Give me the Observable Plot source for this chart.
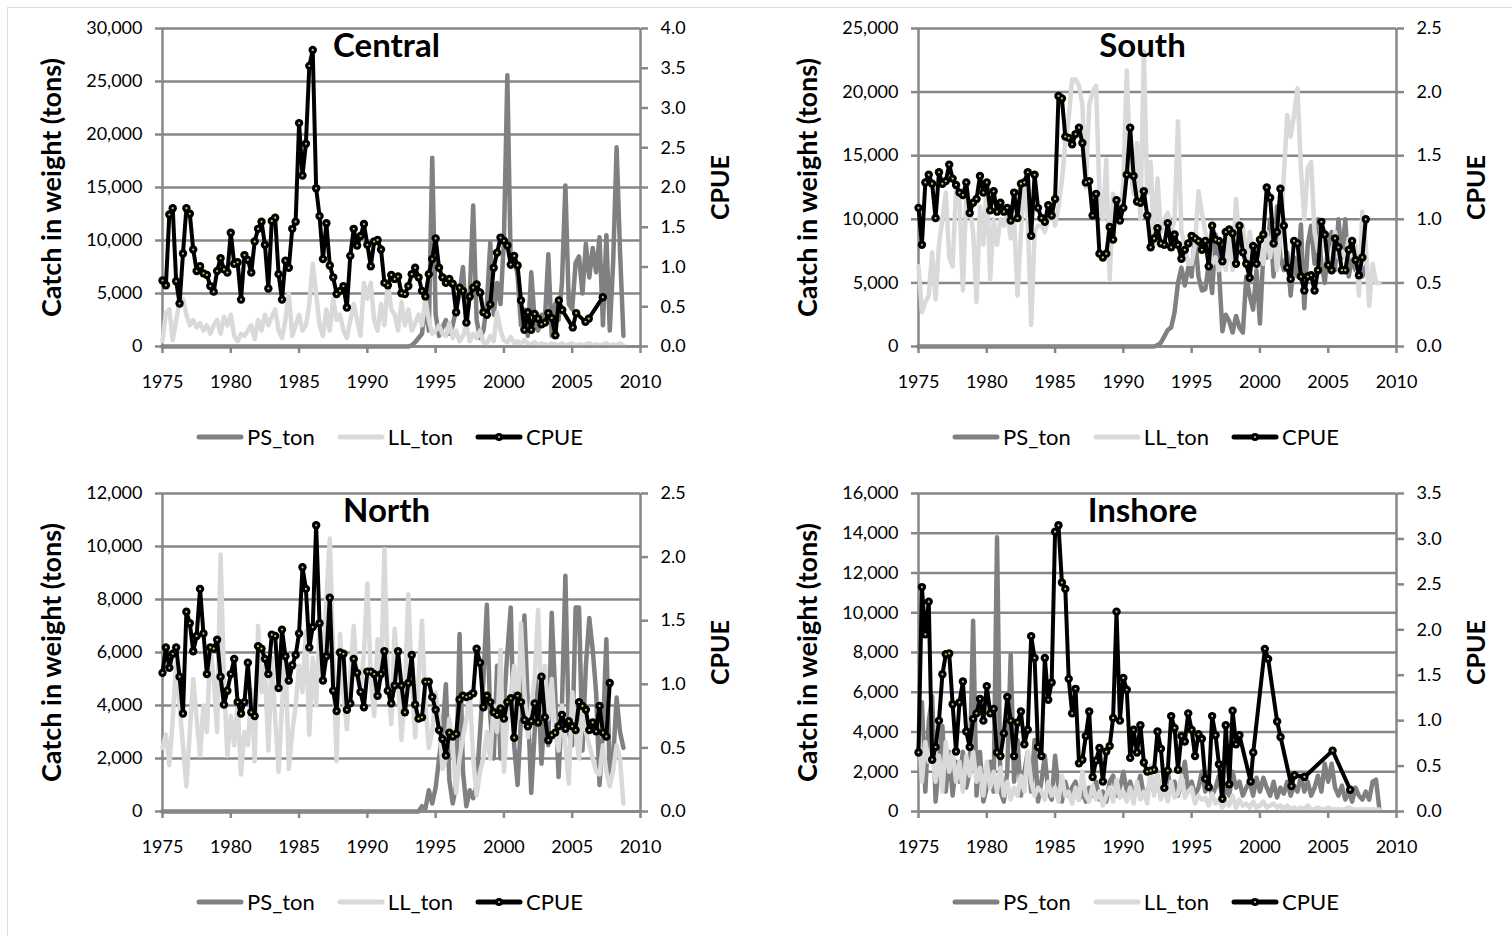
<!DOCTYPE html>
<html><head><meta charset="utf-8">
<script src="https://cdn.jsdelivr.net/npm/d3@7"></script>
<script src="https://cdn.jsdelivr.net/npm/@observablehq/plot@0.6"></script>
<style>
body{margin:0;background:#fff;font-family:Lato,sans-serif;}
#root{position:relative;width:1512px;height:936px;overflow:hidden;background:#fff;}
.border{position:absolute;left:7px;top:7px;width:1600px;height:1000px;border:1px solid #d8dee8;box-sizing:border-box;}
.panel{position:absolute;}
.legend{position:absolute;display:flex;align-items:center;font-size:22px;color:#000;white-space:nowrap;font-family:Lato,sans-serif;}
.legend svg{display:block;margin-right:3px;}
.legend .item{display:flex;align-items:center;margin-right:22px;}
</style></head>
<body><div id="root"><div class="border"></div></div>
<script>
const xTicks = [1975,1980,1985,1990,1995,2000,2005,2010];
const seriesNames = ["PS_ton","LL_ton","CPUE"];

const centralLeftTicks = [0,5000,10000,15000,20000,25000,30000];
const centralRightTicks = [0,0.5,1.0,1.5,2.0,2.5,3.0,3.5,4.0];
const southLeftTicks = [0,5000,10000,15000,20000,25000];
const southRightTicks = [0,0.5,1.0,1.5,2.0,2.5];
const northLeftTicks = [0,2000,4000,6000,8000,10000,12000];
const northRightTicks = [0,0.5,1.0,1.5,2.0,2.5];
const inshoreLeftTicks = [0,2000,4000,6000,8000,10000,12000,14000,16000];
const inshoreRightTicks = [0,0.5,1.0,1.5,2.0,2.5,3.0,3.5];

// Quarterly catches, 1975 Q1 .. 2008 Q4
const psCentral = [
0,0,0,0, 0,0,0,0, 0,0,0,0, 0,0,0,0, 0,0,0,0, 0,0,0,0, 0,0,0,0, 0,0,0,0, 0,0,0,0,
0,0,0,0, 0,0,0,0, 0,0,0,0, 0,0,0,0, 0,0,0,0, 0,0,0,0, 0,0,0,0, 0,0,0,0, 0,0,0,0,
0,100,400,800, 1200,4000,1500,17800, 3000,1000,1800,2500, 1200,2000,3500,5000,
7500,2000,5000,13300, 2500,800,1500,4000, 9800,3000,6000,4000, 10000,25600,7500,8500,
6700,2000,3500,1000, 7000,2500,1500,3000, 2500,8700,1000,4000, 2500,6000,15200,4000,
3500,7900,8500,5000, 9700,6500,9300,7000, 10300,2000,10500,1500, 8000,18800,9000,1000];
const llCentral = [
500,3200,3500,600, 2500,4200,4500,3000, 2000,2500,1800,2200, 1500,2000,1200,2000,
2500,1200,2800,2000, 3000,1000,500,1200, 1000,1500,2000,700, 2500,1500,3000,2000,
2800,3500,1500,800, 2500,5000,1000,2000, 3000,1500,2000,4000, 7800,5000,2000,1000,
3500,1500,4500,2500, 3000,1500,800,2500, 4000,2500,1000,6000, 4500,6000,2500,1500,
4000,2000,6000,3500, 3000,1500,4200,2000, 3500,1500,2200,3000, 2000,4500,2500,1200,
1500,2000,1200,1000, 2200,800,1500,500, 1000,2000,500,1200, 800,1500,400,300,
1000,500,3200,1500, 600,400,900,300, 500,200,600,300, 200,400,100,300,
200,100,300,200, 100,300,100,200, 300,100,200,100, 200,300,100,200,
100,200,300,100, 200,100,300,100];
const cpueCentral = [
0.83,0.77,1.66,1.74,0.82,0.54,1.17,1.74,1.67,1.22,0.95,1.01,0.92,0.90,0.76,0.69,0.95,1.11,0.97,0.93,
1.43,1.04,1.06,0.59,1.15,1.09,0.93,1.32,1.48,1.57,1.28,0.73,1.58,1.62,0.91,0.59,1.08,0.99,1.48,1.57,
2.81,2.15,2.55,3.53,3.73,1.99,1.64,1.10,1.55,1.02,0.87,0.66,0.70,0.76,0.49,1.14,1.48,1.27,1.39,1.54,
1.28,1.01,1.32,1.34,1.22,0.80,0.77,0.90,0.85,0.88,
0.67,0.66,0.76,0.91,0.99,0.87,0.70,0.63,0.91,1.10,1.36,0.99,0.87,0.80,0.85,0.79,0.43,0.74,0.70,0.30,
0.63,0.74,0.78,0.68,0.43,0.40,0.53,0.99,1.18,1.37,1.33,1.27,1.03,1.14,1.02,0.58,0.21,0.43,0.21,0.41,
0.35,0.28,0.30,0.42,0.36];
const cpueCentralTailYears = [2003.77,2004.02,2004.27,2005.04,2005.29,2005.97,2006.21,2007.24];
const cpueCentralTail = [0.14,0.58,0.46,0.24,0.42,0.31,0.35,0.62];

const psSouth = [
0,0,0,0, 0,0,0,0, 0,0,0,0, 0,0,0,0, 0,0,0,0, 0,0,0,0, 0,0,0,0, 0,0,0,0, 0,0,0,0,
0,0,0,0, 0,0,0,0, 0,0,0,0, 0,0,0,0, 0,0,0,0, 0,0,0,0, 0,0,0,0, 0,0,0,0, 0,0,
100,300, 800,1300,1500,2700, 5000,6200,4800,6200, 5500,8700,5500,4400, 4500,6500,4200,8800,
6000,1200,2500,2000, 1100,2400,1500,1100, 5500,4000,2900,6000, 1800,7400,7000,10000,
5500,11000,7000,6000, 7400,4000,7000,5500, 9600,3000,8000,9500, 6500,10000,6500,5000,
8000,9000,6000,10000, 7000,10000,5500,7000, 6000,6500,5500,6300];
const llSouth = [
6300,2700,3500,4000, 7400,3700,8000,10000, 12100,7000,6300,12500, 11500,4400,12000,11000,
9000,3500,11000,8000, 13000,5300,10000,8000, 10000,9500,10500,8500, 10000,4000,9000,13200,
10000,1700,9000,9500, 9500,9000,10000,11000, 9500,11000,13000,16000, 18000,21000,21000,20500,
19000,12500,19000,20000, 20500,12000,10000,14700, 5300,12000,11000,10000, 13000,21700,14000,12000,
16000,10000,23200,12000, 14500,8000,13200,9000, 10000,10500,9000,10000, 17700,9000,8000,6500,
6500,8000,12200,10500, 9000,8000,6500,7000, 6000,7000,6000,8500, 6000,11600,8000,9500,
6500,9000,7500,7000, 8000,6500,9000,7000, 9500,6000,8500,13400, 18200,16500,18200,20300,
14000,10000,14000,14500, 9000,7500,9500,8000, 7000,6500,9000,7000, 7500,7000,8500,7000,
8000,4000,10600,8000, 3200,6500,5000,5000];
const cpueSouth = [
1.09,0.80,1.29,1.35,1.28,1.01,1.37,1.28,1.30,1.43,1.32,1.27,1.21,1.19,1.29,1.05,1.13,1.16,1.34,1.21,
1.29,1.07,1.22,1.06,1.13,1.06,1.09,0.99,1.21,1.01,1.28,1.29,1.37,0.87,1.35,1.09,1.01,0.98,1.11,1.03,
1.16,1.97,1.95,1.65,1.64,1.59,1.67,1.72,1.60,1.29,1.30,1.03,1.20,0.73,0.70,0.73,0.94,0.84,1.15,0.99,
1.09,1.35,1.72,1.34,1.14,1.13,1.22,1.03,
0.78,0.85,0.93,0.81,0.80,0.97,0.78,0.88,0.80,0.69,0.76,0.81,0.87,0.85,0.83,0.76,0.83,0.63,0.95,0.84,
0.83,0.67,0.90,0.92,0.89,0.65,0.95,0.74,0.65,0.54,0.79,0.65,0.84,0.88,1.25,1.17,0.81,0.90,1.24,0.95,
0.62,0.53,0.83,0.81,0.55,0.44,0.55,0.56,0.44,0.60,0.98,0.88,0.64,0.60,0.85,0.78,0.60,0.60,0.76,0.83,
0.68,0.56,0.70,1.00];

const psNorth = [
0,0,0,0, 0,0,0,0, 0,0,0,0, 0,0,0,0, 0,0,0,0, 0,0,0,0, 0,0,0,0, 0,0,0,0, 0,0,0,0,
0,0,0,0, 0,0,0,0, 0,0,0,0, 0,0,0,0, 0,0,0,0, 0,0,0,0, 0,0,0,0, 0,0,0,0, 0,0,0,0, 0,0,0,0,
200,100,800,300, 900,2000,3000,4800, 1200,300,1000,6700, 1500,200,800,500,
1000,3000,5000,7800, 3600,2000,5500,2000, 4000,6000,7700,2500, 1000,3500,7400,4000,
700,3000,5000,1800, 4000,2500,7500,4500, 1300,4000,8900,3000, 2500,7700,7700,2300,
5500,7300,6100,4500, 1000,3000,6500,1200, 2000,4300,3000,2400];
const llNorth = [
2400,2900,1750,3500, 5600,4000,2500,950, 3000,5000,3500,2100, 4000,3000,6200,5000,
3000,9700,5000,2100, 3600,2500,4000,1400, 3000,2500,4600,1900, 7000,4500,5500,2300,
5800,3500,1500,4000, 6000,1600,3000,4000, 5500,4500,6800,2900, 5800,4000,7000,5500,
8000,10300,6000,1900, 6700,4500,3100,5000, 7000,5000,4600,6000, 8600,5000,3600,6500,
5000,9900,5000,3300, 6900,5000,2700,4500, 8200,5000,2800,5000, 7200,4000,2400,3000,
4500,3500,1600,2000, 3500,2500,700,2000, 2800,3500,4500,2000, 600,1500,2000,3000,
2000,4000,3000,6100, 1500,3500,4500,5500, 3500,7100,4500,2800, 4000,5000,7600,4000,
5500,3500,5000,3000, 2300,4000,2500,1050, 4500,3000,2000,3800, 3000,2500,2000,1500,
1400,2500,1500,950, 1550,2500,2000,300];
const cpueNorth = [
1.09,1.29,1.13,1.24,1.29,1.06,0.77,1.57,1.48,1.26,1.38,1.75,1.40,1.08,1.29,1.28,1.35,1.06,0.84,0.95,
1.08,1.20,0.86,0.77,0.86,1.17,0.78,0.75,1.30,1.28,1.20,1.08,1.39,1.38,0.97,1.43,1.22,1.03,1.15,1.23,
1.40,1.92,1.75,1.29,1.45,2.25,1.48,1.03,1.22,1.68,0.95,0.79,1.25,1.24,0.80,0.85,1.20,1.09,0.94,0.82,
1.10,1.10,1.08,0.91,1.08,1.26,0.95,0.85,0.99,1.26,
0.99,0.78,1.01,1.23,0.84,0.73,0.74,1.02,1.02,0.90,0.80,0.64,0.57,0.44,0.62,0.59,0.61,0.88,0.91,0.90,
0.91,0.93,1.28,1.17,0.82,0.91,0.86,0.78,0.76,0.81,0.73,0.86,0.89,0.58,0.91,0.86,0.72,0.67,0.71,0.85,
0.70,1.06,0.74,0.56,0.60,0.62,0.67,0.76,0.65,0.71,0.67,0.64,0.86,0.83,0.80,0.64,0.70,0.63,0.83,0.62,
0.59,1.01];

const psInshore = [
3000,5500,1000,4500, 5800,500,2500,4300, 1000,3000,800,2500, 1500,3000,1200,2000,
9600,800,3000,500, 1200,2500,1000,13800, 1000,500,2000,7900, 1500,3600,800,2000,
3000,1000,3600,500, 1500,2800,1000,600, 2800,1200,500,1500, 800,1200,1500,600,
1000,500,1200,800, 1500,600,1000,500, 1500,1800,800,1200, 2000,1000,1500,800,
1200,1800,800,1000, 1500,1000,1800,700, 1200,2000,1000,1500, 800,1500,2500,1000,
1500,800,1200,2000, 1000,1500,800,1200, 1800,600,1200,800, 2000,1200,1500,800,
1200,1500,800,1700, 1000,1700,1200,800, 1500,700,1200,900, 1500,800,1300,1000,
1800,1000,1500,800, 1200,1800,1000,2400, 1500,2400,1200,800, 1300,600,1000,500,
1200,800,600,1000, 600,1500,1600,100];
const llInshore = [
4400,1500,3500,2500, 3000,1500,2800,1000, 3500,2000,3000,1500, 2500,1000,2800,1800,
3000,1500,2200,800, 2500,1200,2000,1000, 2200,800,1500,600, 1200,800,1800,1000,
3000,1500,800,1200, 1000,600,1500,800, 1200,500,1800,800, 1000,400,1200,600,
2000,800,500,1300, 600,1000,300,800, 1200,500,1600,700, 1000,500,1200,400,
1500,600,1000,400, 2300,800,1800,600, 1200,500,1500,700, 900,1800,700,1000,
1200,400,800,600, 700,300,900,400, 600,200,500,300, 800,200,600,300,
400,200,500,200, 300,500,200,300, 400,200,300,100, 300,100,200,100,
200,100,300,100, 100,200,100,100, 200,100,100,100, 100,100,200,100,
100,100,100,100, 100,100,100,100];
const cpueInshore = [
0.65,2.47,1.95,2.31,0.57,0.71,1.00,1.51,1.73,1.74,1.18,0.66,1.20,1.43,0.88,0.71,1.02,1.08,1.24,1.00,
1.38,1.08,1.13,0.65,0.61,0.86,1.26,1.00,0.61,0.98,1.10,0.74,0.90,1.93,1.69,0.71,0.61,1.69,1.23,1.42,
3.08,3.15,2.52,2.45,1.46,1.08,1.35,0.53,0.57,0.83,1.10,0.38,0.56,0.70,0.33,0.66,0.72,1.03,2.20,1.00,
1.47,1.34,0.59,0.90,0.65,0.95,0.54,0.44,0.45,
0.46,0.88,0.69,0.26,0.45,1.05,0.92,0.46,0.83,0.77,1.08,0.90,0.61,0.85,0.80,0.36,0.27,1.05,0.84,0.52,
0.14,0.95,0.30,1.11,0.74,0.84];
const cpueInshoreTailYears = [1999.32,1999.51,2000.36,2000.6,2001.26,2001.51,2002.31,2002.53,2003.26,2005.32,2006.61];
const cpueInshoreTail = [0.33,0.65,1.79,1.68,0.99,0.82,0.28,0.40,0.38,0.67,0.24];

const panels = [
  {title:"Central", ps:psCentral, ll:llCentral, cpue:cpueCentral, tailYears:cpueCentralTailYears, tail:cpueCentralTail, lt:centralLeftTicks, rt:centralRightTicks, left:0, top:0},
  {title:"South", ps:psSouth, ll:llSouth, cpue:cpueSouth, tailYears:[], tail:[], lt:southLeftTicks, rt:southRightTicks, left:756, top:0},
  {title:"North", ps:psNorth, ll:llNorth, cpue:cpueNorth, tailYears:[], tail:[], lt:northLeftTicks, rt:northRightTicks, left:0, top:465},
  {title:"Inshore", ps:psInshore, ll:llInshore, cpue:cpueInshore, tailYears:cpueInshoreTailYears, tail:cpueInshoreTail, lt:inshoreLeftTicks, rt:inshoreRightTicks, left:756, top:465}
];

const GRID = "#878787";
const PS_COLOR = "#808080", LL_COLOR = "#d9d9d9", CPUE_COLOR = "#000000", MARK_CENTER = "#b8d45a";
const root = document.getElementById("root");

for (const p of panels) {
  const yMax = p.lt[p.lt.length-1], cMax = p.rt[p.rt.length-1], k = yMax / cMax;
  const psData = p.ps.map((v,i)=>({t:1975+i/4, v}));
  const llData = p.ll.map((v,i)=>({t:1975+i/4, v}));
  const cData = p.cpue.map((c,i)=>({t:1975+i/4, c})).concat(p.tailYears.map((y,j)=>({t:y, c:p.tail[j]})));
  const lineOpts = {strokeWidth:4.5, strokeLinejoin:"round", strokeLinecap:"round"};
  const chart = Plot.plot({
    width:756, height:400,
    marginLeft:162, marginRight:116, marginTop:28, marginBottom:54,
    x:{domain:[1975,2010]},
    y:{domain:[0,yMax]},
    style:{fontFamily:"Lato, sans-serif", fontSize:"18px", color:"#000", background:"transparent", overflow:"visible"},
    marks:[
      Plot.gridY(p.lt, {stroke:GRID, strokeOpacity:1, strokeWidth:2.5}),
      Plot.ruleX([1975, 2010], {stroke:GRID, strokeWidth:2.5}),
      Plot.axisY(p.lt, {anchor:"left", tickFormat:d3.format(","), tickSize:7, tickPadding:13, stroke:GRID, strokeWidth:2.5, label:null}),
      Plot.axisY(p.rt.map(c=>c*k), {anchor:"right", tickFormat:d=>(d/k).toFixed(1), tickSize:7, tickPadding:13, stroke:GRID, strokeWidth:2.5, label:null}),
      Plot.axisX(xTicks, {tickFormat:d=>String(d), tickSize:7, tickPadding:22, stroke:GRID, strokeWidth:2.5, label:null}),
      Plot.line(psData, {x:"t", y:"v", stroke:PS_COLOR, ...lineOpts}),
      Plot.line(llData, {x:"t", y:"v", stroke:LL_COLOR, ...lineOpts}),
      Plot.line(cData, {x:"t", y:d=>d.c*k, stroke:CPUE_COLOR, strokeWidth:4, strokeLinejoin:"round"}),
      Plot.dot(cData, {x:"t", y:d=>d.c*k, r:4.2, fill:CPUE_COLOR, stroke:null}),
      Plot.dot(cData, {x:"t", y:d=>d.c*k, r:1.1, fill:MARK_CENTER, stroke:null}),
      Plot.ruleY([0], {stroke:GRID, strokeWidth:2.5}),
      Plot.text([p.title], {frameAnchor:"top", lineAnchor:"middle", dy:18, dx:-15, fontSize:33, fontWeight:"bold", fill:"#000"}),
      Plot.text(["Catch in weight (tons)"], {frameAnchor:"left", textAnchor:"middle", lineAnchor:"middle", dx:-110, rotate:-90, fontSize:27, fontWeight:"bold", fill:"#000"}),
      Plot.text(["CPUE"], {frameAnchor:"right", textAnchor:"middle", lineAnchor:"middle", dx:80, rotate:-90, fontSize:25, fontWeight:"bold", fill:"#000"})
    ]
  });
  const div = document.createElement("div");
  div.className = "panel";
  div.style.left = p.left + "px";
  div.style.top = p.top + "px";
  div.appendChild(chart);
  root.appendChild(div);

  // legend below the chart
  const lg = document.createElement("div");
  lg.className = "legend";
  lg.style.left = (p.left + 196) + "px";
  lg.style.top = (p.top + 423) + "px";
  const sw = (color, marker) => `<svg width="48" height="12"><line x1="3" y1="6" x2="45" y2="6" stroke="${color}" stroke-width="5" stroke-linecap="round"/>` +
     (marker ? `<circle cx="24" cy="6" r="4" fill="#000"/><circle cx="24" cy="6" r="1.1" fill="${MARK_CENTER}"/>` : "") + `</svg>`;
  lg.innerHTML =
    `<div class="item">${sw(PS_COLOR,false)}<span>${seriesNames[0]}</span></div>` +
    `<div class="item">${sw(LL_COLOR,false)}<span>${seriesNames[1]}</span></div>` +
    `<div class="item" style="margin-right:0">${sw(CPUE_COLOR,true)}<span>${seriesNames[2]}</span></div>`;
  root.appendChild(lg);
}
</script>
</body></html>
